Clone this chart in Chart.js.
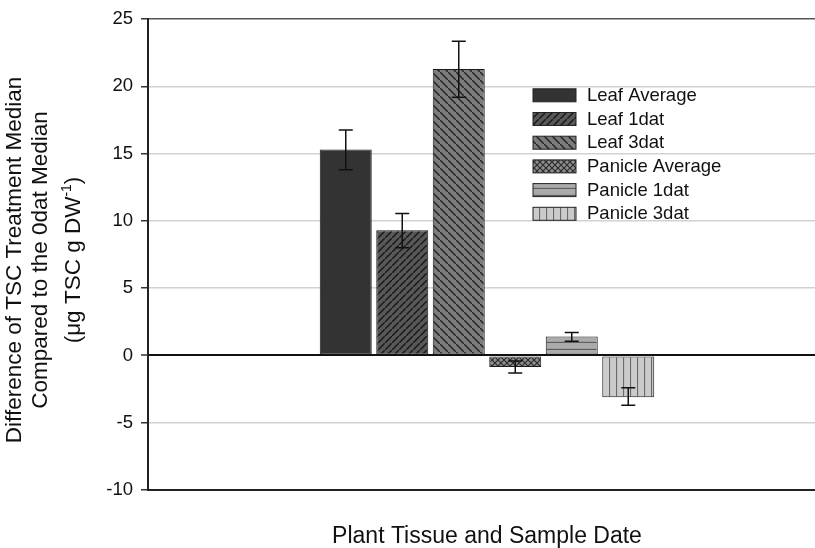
<!DOCTYPE html>
<html>
<head>
<meta charset="utf-8">
<script src="https://cdn.jsdelivr.net/npm/chart.js@4.4.0/dist/chart.umd.min.js"></script>
<style>
  html, body { margin: 0; padding: 0; background: #fff; overflow: hidden; width: 815px; height: 548px; }
  #wrap { position: relative; width: 830px; height: 548px; }
</style>
</head>
<body>
<div id="wrap"><canvas id="c" width="830" height="548"></canvas></div>
<script>
// Difference of total soluble carbohydrate (TSC) treatment median vs. the 0dat median
const seriesNames = ['Leaf Average', 'Leaf 1dat', 'Leaf 3dat', 'Panicle Average', 'Panicle 1dat', 'Panicle 3dat'];
const medianDiff  = [15.3, 9.3, 21.3, -0.85, 1.4, -3.1];
const errHigh     = [16.75, 10.55, 23.35, -0.42, 1.7, -2.4];
const errLow      = [13.8, 8.0, 19.2, -1.3, 1.05, -3.7];
const yTicks      = [-10, -5, 0, 5, 10, 15, 20, 25];
const categories  = [''];

const FONT = "'Liberation Sans', Arial, sans-serif";

// Hatch fills for each series
function makePattern(kind) {
  const c = document.createElement('canvas');
  const g = c.getContext('2d');
  let w = 8, h = 8;
  if (kind === 'solid') { return '#333333'; }
  if (kind === 'fwd')   { w = h = 7; }
  if (kind === 'back')  { w = h = 8; }
  if (kind === 'cross') { w = h = 6; }
  if (kind === 'horiz') { w = 8; h = 7; }
  if (kind === 'vert')  { w = 7; h = 8; }
  c.width = w; c.height = h;
  const bg = { fwd: '#585858', back: '#7c7c7c', cross: '#8e8e8e', horiz: '#ababab', vert: '#cbcbcb' }[kind];
  g.fillStyle = bg; g.fillRect(0, 0, w, h);
  g.lineCap = 'square';
  if (kind === 'fwd') {
    g.strokeStyle = '#1a1a1a'; g.lineWidth = 1.5;
    g.beginPath();
    g.moveTo(-1, h + 1); g.lineTo(w + 1, -1);
    g.moveTo(-2, 1); g.lineTo(1, -2);
    g.moveTo(w - 1, h + 2); g.lineTo(w + 2, h - 1);
    g.stroke();
  } else if (kind === 'back') {
    g.strokeStyle = '#262626'; g.lineWidth = 1.5;
    g.beginPath();
    g.moveTo(-1, -1); g.lineTo(w + 1, h + 1);
    g.moveTo(-2, h - 1); g.lineTo(1, h + 2);
    g.moveTo(w - 1, -2); g.lineTo(w + 2, 1);
    g.stroke();
  } else if (kind === 'cross') {
    g.strokeStyle = '#2c2c2c'; g.lineWidth = 1.2;
    g.beginPath();
    g.moveTo(-1, -1); g.lineTo(w + 1, h + 1);
    g.moveTo(-1, h + 1); g.lineTo(w + 1, -1);
    g.stroke();
  } else if (kind === 'horiz') {
    g.strokeStyle = '#5e5e5e'; g.lineWidth = 1.3;
    g.beginPath(); g.moveTo(0, 6.5); g.lineTo(w, 6.5); g.stroke();
  } else if (kind === 'vert') {
    g.strokeStyle = '#6a6a6a'; g.lineWidth = 1.2;
    g.beginPath(); g.moveTo(0.5, 0); g.lineTo(0.5, h); g.stroke();
  }
  return g.createPattern(c, 'repeat');
}

const fills = ['solid', 'fwd', 'back', 'cross', 'horiz', 'vert'].map(makePattern);

// Vertical error bars with caps
const errorBars = {
  id: 'errorBars',
  afterDatasetsDraw(chart) {
    const { ctx, scales: { y } } = chart;
    ctx.save();
    ctx.strokeStyle = '#111';
    ctx.lineWidth = 1.5;
    chart.data.datasets.forEach((ds, i) => {
      const bar = chart.getDatasetMeta(i).data[0];
      const x = bar.x;
      const yH = y.getPixelForValue(errHigh[i]);
      const yL = y.getPixelForValue(errLow[i]);
      ctx.beginPath();
      ctx.moveTo(x, yH); ctx.lineTo(x, yL);
      ctx.moveTo(x - 7, yH); ctx.lineTo(x + 7, yH);
      ctx.moveTo(x - 7, yL); ctx.lineTo(x + 7, yL);
      ctx.stroke();
    });
    ctx.restore();
  }
};

// Legend inside the plot
const legendBox = {
  id: 'legendBox',
  afterDraw(chart) {
    const { ctx } = chart;
    ctx.save();
    ctx.font = '18.5px ' + FONT;
    ctx.textBaseline = 'middle';
    ctx.textAlign = 'left';
    chart.data.datasets.forEach((ds, i) => {
      const cy = 95.3 + i * 23.7;
      ctx.fillStyle = ds.backgroundColor;
      ctx.fillRect(533, cy - 6.5, 43, 13);
      ctx.strokeStyle = '#222';
      ctx.lineWidth = 1;
      ctx.strokeRect(533, cy - 6.5, 43, 13);
      ctx.fillStyle = '#111';
      ctx.fillText(ds.label, 587, cy + 0.5);
    });
    ctx.restore();
  }
};

// Three-line rotated y-axis title with superscript unit
const yTitle = {
  id: 'yTitle',
  afterDraw(chart) {
    const { ctx } = chart;
    const cy = 260;
    ctx.save();
    ctx.fillStyle = '#111';
    ctx.textBaseline = 'alphabetic';
    const main = '22.5px ' + FONT, sup = '14px ' + FONT;
    const drawLine = (parts, bx) => {
      ctx.save();
      ctx.translate(bx, cy);
      ctx.rotate(-Math.PI / 2);
      let total = 0;
      parts.forEach(p => { ctx.font = p.sup ? sup : main; total += ctx.measureText(p.t).width; });
      let x = -total / 2;
      parts.forEach(p => {
        ctx.font = p.sup ? sup : main;
        ctx.fillText(p.t, x, p.sup ? -9 : 0);
        x += ctx.measureText(p.t).width;
      });
      ctx.restore();
    };
    drawLine([{ t: 'Difference of TSC Treatment Median' }], 21);
    drawLine([{ t: 'Compared to the 0dat Median' }], 47);
    drawLine([{ t: '(\u03BCg TSC g DW' }, { t: '-1', sup: true }, { t: ')' }], 80);
    ctx.restore();
  }
};

new Chart(document.getElementById('c'), {
  type: 'bar',
  data: {
    labels: categories,
    datasets: seriesNames.map((name, i) => ({
      label: name,
      data: [medianDiff[i]],
      backgroundColor: fills[i],
      borderColor: '#1a1a1a',
      borderWidth: 1,
      borderSkipped: false,
      categoryPercentage: 0.5,
      barPercentage: 0.92
    }))
  },
  options: {
    responsive: false,
    animation: false,
    layout: { padding: { top: 18, right: 4, left: 0, bottom: 0 } },
    plugins: { legend: { display: false }, tooltip: { enabled: false } },
    scales: {
      x: {
        grid: { display: false, drawTicks: false },
        border: { display: true, color: '#222', width: 2 },
        ticks: { display: false },
        title: {
          display: true,
          text: 'Plant Tissue and Sample Date',
          font: { family: FONT, size: 23 },
          color: '#111',
          padding: { top: 0, bottom: -2 }
        },
        afterFit(s) { s.height = 58; }
      },
      y: {
        min: -10,
        max: 25,
        afterBuildTicks(s) { s.ticks = yTicks.map(v => ({ value: v })); },
        ticks: { font: { family: FONT, size: 18.5 }, color: '#111', padding: 8 },
        grid: {
          color: c => c.tick && c.tick.value === 0 ? '#111' : (c.tick && c.tick.value === 25 ? '#555' : '#d2d2d2'),
          lineWidth: c => c.tick && c.tick.value === 0 ? 2 : 1.5,
          tickColor: '#333',
          tickLength: 7,
          tickWidth: 1.5
        },
        border: { color: '#222', width: 2 },
        afterFit(s) { s.width = 148; }
      }
    }
  },
  plugins: [errorBars, legendBox, yTitle]
});
</script>
</body>
</html>
